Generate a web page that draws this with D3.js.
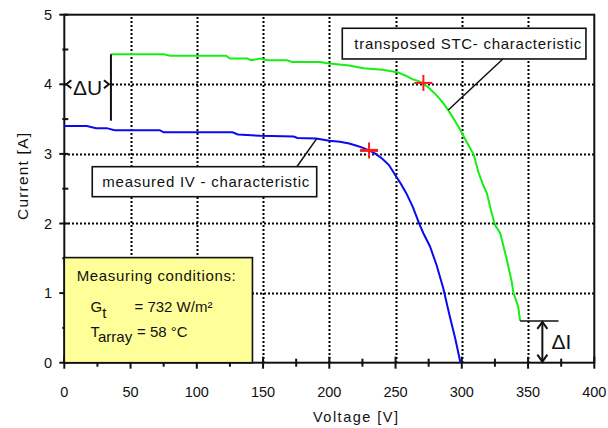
<!DOCTYPE html>
<html>
<head>
<meta charset="utf-8">
<script src="https://cdn.jsdelivr.net/npm/d3@7"></script>
<style>
  body { margin: 0; background: #fff; }
  svg { display: block; font-family: "Liberation Sans", Arial, sans-serif; }
</style>
</head>
<body>
<svg id="chart" width="608" height="428"></svg>
<script>
  // measured IV curve (blue)
  const measuredV = [0, 17, 24, 32, 38, 72, 75, 127, 131, 148, 173, 176, 190, 200, 208, 215, 220, 225, 230, 235, 240, 245, 250, 254, 258, 263, 268, 271, 276, 281, 286, 291, 295, 299];
  const measuredI = [3.40, 3.40, 3.37, 3.37, 3.34, 3.34, 3.31, 3.31, 3.28, 3.26, 3.25, 3.23, 3.22, 3.19, 3.175, 3.15, 3.12, 3.09, 3.05, 3.0, 2.93, 2.84, 2.69, 2.57, 2.44, 2.24, 1.99, 1.86, 1.67, 1.40, 1.07, 0.66, 0.35, 0.0];

  // transposed STC curve (green)
  const stcV = [35, 75, 80, 122, 125, 138, 141, 148, 153, 168, 172, 193, 200, 215, 226, 240, 246, 252, 258, 263, 267, 271, 275, 279, 282, 286, 290, 294, 299, 304, 309, 312.5, 316, 319, 322, 325, 329, 334, 337.7, 339, 342.6, 344];
  const stcI = [4.43, 4.43, 4.41, 4.41, 4.37, 4.37, 4.345, 4.37, 4.345, 4.345, 4.32, 4.32, 4.30, 4.27, 4.23, 4.21, 4.19, 4.17, 4.12, 4.07, 4.05, 4.01, 3.95, 3.88, 3.82, 3.73, 3.62, 3.50, 3.34, 3.16, 2.99, 2.74, 2.56, 2.43, 2.19, 1.98, 1.86, 1.48, 1.16, 1.0, 0.80, 0.60];

  // maximum power points
  const mppV = [230, 271];
  const mppI = [3.05, 4.02];

  const xTicks = [0, 50, 100, 150, 200, 250, 300, 350, 400];
  const xMinor = [25, 75, 125, 175, 225, 275, 325, 375];
  const yTicks = [0, 1, 2, 3, 4, 5];
  const yMinor = [0.5, 1.5, 2.5, 3.5, 4.5];
  const xGrid = [50, 100, 150, 200, 250, 300, 350];
  const yGrid = [1, 2, 3, 4];

  const svg = d3.select('#chart');
  const x = d3.scaleLinear().domain([0, 400]).range([64.3, 594.3]);
  const y = d3.scaleLinear().domain([0, 5]).range([362.7, 14.7]);
  const px = v => Math.round(v) + 0.5;

  const ink = '#111';

  // dotted grid
  const grid = svg.append('g').attr('stroke', '#000').attr('stroke-width', 2).attr('stroke-dasharray', '2,2');
  grid.selectAll('.gx').data(xGrid).enter().append('line').attr('class', 'gx')
    .attr('x1', d => px(x(d))).attr('x2', d => px(x(d))).attr('y1', Math.round(y(0))).attr('y2', Math.round(y(5)));
  grid.selectAll('.gy').data(yGrid).enter().append('line').attr('class', 'gy')
    .attr('x1', Math.round(x(0))).attr('x2', Math.round(x(400))).attr('y1', d => px(y(d))).attr('y2', d => px(y(d)));

  // frame
  svg.append('rect')
    .attr('x', x(0)).attr('y', y(5)).attr('width', x(400) - x(0)).attr('height', y(0) - y(5))
    .attr('fill', 'none').attr('stroke', ink).attr('stroke-width', 2);

  // ticks
  const ticks = svg.append('g').attr('stroke', ink).attr('stroke-width', 2);
  ticks.selectAll('.tx').data(xTicks).enter().append('line')
    .attr('x1', d => x(d)).attr('x2', d => x(d)).attr('y1', y(0) - 6).attr('y2', y(0) + 6);
  ticks.selectAll('.tmx').data(xMinor).enter().append('line')
    .attr('x1', d => x(d)).attr('x2', d => x(d)).attr('y1', y(0) - 4).attr('y2', y(0) + 4);
  ticks.selectAll('.ty').data(yTicks).enter().append('line')
    .attr('x1', x(0) - 5).attr('x2', x(0) + 4).attr('y1', d => y(d)).attr('y2', d => y(d));
  ticks.selectAll('.tmy').data(yMinor).enter().append('line')
    .attr('x1', x(0) - 2).attr('x2', x(0) + 4).attr('y1', d => y(d)).attr('y2', d => y(d));

  // tick labels
  svg.append('g').selectAll('text').data(xTicks).enter().append('text')
    .attr('x', d => x(d)).attr('y', 397)
    .attr('text-anchor', 'middle').attr('font-size', 14.5).attr('fill', ink)
    .text(d => d);
  svg.append('g').selectAll('text').data(yTicks).enter().append('text')
    .attr('x', 52).attr('y', d => y(d) + 5)
    .attr('text-anchor', 'end').attr('font-size', 14.5).attr('fill', ink)
    .text(d => d);

  // axis titles
  svg.append('text').attr('x', 355.5).attr('y', 422)
    .attr('text-anchor', 'middle').attr('font-size', 14.5).attr('fill', ink)
    .attr('textLength', 85).attr('lengthAdjust', 'spacing')
    .text('Voltage  [V]');
  svg.append('text').attr('transform', 'translate(28,176.5) rotate(-90)')
    .attr('text-anchor', 'middle').attr('font-size', 15.5).attr('fill', ink)
    .attr('textLength', 87).attr('lengthAdjust', 'spacing')
    .text('Current  [A]');

  // measuring conditions box
  const cond = svg.append('g');
  cond.append('rect')
    .attr('x', x(0)).attr('y', y(1.51)).attr('width', x(142) - x(0)).attr('height', y(0) - y(1.51))
    .attr('fill', '#FFFF99').attr('stroke', ink).attr('stroke-width', 1.6);
  cond.append('text').attr('x', 76.7).attr('y', 281).attr('font-size', 15).attr('fill', ink)
    .attr('textLength', 159).attr('lengthAdjust', 'spacing')
    .text('Measuring conditions:');
  const g1 = cond.append('text').attr('x', 90.5).attr('y', 311.5).attr('font-size', 15).attr('fill', ink);
  g1.append('tspan').text('G');
  g1.append('tspan').attr('dy', 6).text('t');
  cond.append('text').attr('x', 134.5).attr('y', 311.5).attr('font-size', 15).attr('fill', ink).text('= 732 W/m²');
  const t1 = cond.append('text').attr('x', 90.5).attr('y', 336.5).attr('font-size', 15).attr('fill', ink);
  t1.append('tspan').text('T');
  t1.append('tspan').attr('dy', 5).text('array');
  cond.append('text').attr('x', 137).attr('y', 336.5).attr('font-size', 15).attr('fill', ink).text('= 58 °C');

  // curves
  const line = d3.line().x(d => x(d[0])).y(d => y(d[1]));
  svg.append('path').datum(measuredV.map((v, i) => [v, measuredI[i]]))
    .attr('d', line).attr('fill', 'none').attr('stroke', '#0a0af0').attr('stroke-width', 2);
  svg.append('path').datum(stcV.map((v, i) => [v, stcI[i]]))
    .attr('d', line).attr('fill', 'none').attr('stroke', '#14f014').attr('stroke-width', 2);

  // MPP crosses
  const cross = svg.append('g').attr('stroke', '#ff1a1a').attr('stroke-width', 2);
  mppV.forEach((v, i) => {
    cross.append('line').attr('x1', x(v) - 9).attr('x2', x(v) + 9).attr('y1', y(mppI[i])).attr('y2', y(mppI[i]))
      .attr('stroke-width', i === 0 ? 3 : 2);
    cross.append('line').attr('x1', x(v)).attr('x2', x(v)).attr('y1', y(mppI[i]) - 8).attr('y2', y(mppI[i]) + 8);
  });

  // callout boxes
  const callout = (x0, x1, yTop, yBot, label, tx, tlen, from, to) => {
    const g = svg.append('g');
    g.append('line').attr('x1', x(from[0])).attr('y1', y(from[1])).attr('x2', x(to[0])).attr('y2', y(to[1]))
      .attr('stroke', ink).attr('stroke-width', 1.5);
    g.append('rect').attr('x', x(x0)).attr('y', y(yTop)).attr('width', x(x1) - x(x0)).attr('height', y(yBot) - y(yTop))
      .attr('fill', '#fff').attr('stroke', ink).attr('stroke-width', 1.6);
    g.append('text').attr('x', tx).attr('y', (y(yTop) + y(yBot)) / 2 + 5.5)
      .attr('font-size', 15).attr('fill', ink)
      .attr('textLength', tlen).attr('lengthAdjust', 'spacing')
      .text(label);
  };
  callout(21.1, 190.5, 2.816, 2.385, 'measured IV - characteristic', 102.3, 207, [175.5, 2.816], [190.5, 3.22]);
  callout(209.8, 393.7, 4.805, 4.364, 'transposed STC- characteristic', 354.3, 227, [331, 4.364], [289.8, 3.63]);

  // delta U annotation
  svg.append('rect').attr('x', x(0) + 2).attr('y', y(4) - 3).attr('width', x(35.2) - x(0) - 3).attr('height', 6)
    .attr('fill', '#fff');
  const du = svg.append('g').attr('stroke', ink).attr('stroke-width', 2).attr('fill', 'none');
  du.append('line').attr('x1', x(35.2)).attr('x2', x(35.2)).attr('y1', y(4.43)).attr('y2', y(3.477));
  du.append('path').attr('d', `M${x(0) + 7},${y(4) - 4}L${x(0) + 2},${y(4)}L${x(0) + 7},${y(4) + 4}`);
  du.append('path').attr('d', `M${x(35.2) - 7},${y(4) - 4}L${x(35.2) - 2},${y(4)}L${x(35.2) - 7},${y(4) + 4}`);
  svg.append('text').attr('x', 87.5).attr('y', y(4) + 10.5).attr('text-anchor', 'middle')
    .attr('font-size', 21).attr('fill', ink).text('ΔU');

  // delta I annotation
  const di = svg.append('g').attr('stroke', ink).attr('stroke-width', 2).attr('fill', 'none');
  di.append('line').attr('x1', x(344)).attr('x2', x(373)).attr('y1', y(0.6)).attr('y2', y(0.6)).attr('stroke-width', 1.6);
  di.append('line').attr('x1', x(360.8)).attr('x2', x(360.8)).attr('y1', y(0.6) + 1).attr('y2', y(0) - 1);
  di.append('path').attr('d', `M${x(360.8) - 5},${y(0.6) + 8}L${x(360.8)},${y(0.6) + 1}L${x(360.8) + 5},${y(0.6) + 8}`);
  di.append('path').attr('d', `M${x(360.8) - 5},${y(0) - 8}L${x(360.8)},${y(0) - 1}L${x(360.8) + 5},${y(0) - 8}`);
  svg.append('text').attr('x', 551.5).attr('y', 348.5)
    .attr('font-size', 21).attr('fill', ink).text('ΔI');
</script>
</body>
</html>
